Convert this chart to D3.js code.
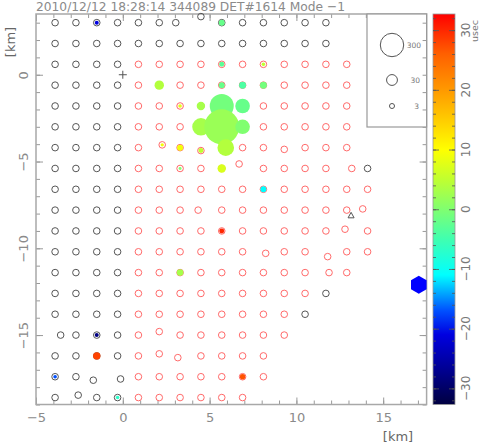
<!DOCTYPE html>
<html><head><meta charset="utf-8">
<script src="https://cdn.jsdelivr.net/npm/d3@7"></script>
<style>body{margin:0;background:#fff}svg{display:block}text{font-family:"DejaVu Sans",sans-serif}</style>
</head><body><script>
// ---------- data ----------
const title = "2010/12/12 18:28:14 344089 DET#1614 Mode \u22121";
const colX = [-3.9,-2.7,-1.5,-0.3,0.9,2.1,3.3,4.5,5.7,6.9,8.1,9.3,10.5,11.7,12.9,14.1];
const rowY = [3.0,1.8,0.6,-0.6,-1.8,-3.0,-4.2,-5.4,-6.6,-7.8,-9.0,-10.2,-11.4,-12.6,-13.8,-15.0,-16.2,-17.4,-18.6];
// k = black (outside), r = red (counter), . = none
const rowKinds = [
 "kkkkkkkkkkkkkk..",
 "kkkkkkkkkkkkkk..",
 "kkkkrrrrrrrrrrr.",
 "kkkkrrrrrrrrrrr.",
 "kkkkrrrrrrrrrrr.",
 "kkkkrrrrrrrrrrr.",
 "kkkkrrrrrrrrrrr.",
 "kkkkrrrrrrrrrrrk",
 "kkkkrrrrrrrrrrrr",
 "kkkkrrrrrrrrrrrr",
 "kkkkrrrrrrrrrrrr",
 "kkkkrrrrrrrrrrrr",
 "kkkkrrrrrrrrrrr.",
 "kkkkrrrrrrrrrk..",
 "kkkkrrrrrrrrk...",
 "kkkkrrrrrrrr....",
 "kkkkrrrrrrr.....",
 "kkkkrrrrrrr.....",
 "kkkkrrrrrr......"
];
// station position corrections: [row, col, dx km, dy km]
const offsets = [
 [0,6,-0.25,0],[0,7,0,0.35],[6,5,0.17,0.16],[6,7,0,-0.17],[6,8,0.23,0],[6,11,0,-0.1],
 [7,9,-0.2,0.26],[7,14,0.29,0],[9,7,-0.16,0],[9,15,-0.28,0.07],[10,14,-0.1,0.1],
 [11,10,0.13,-0.09],[11,13,0.1,-0.28],[12,13,0.18,0],[15,0,0.32,0],[15,5,0,0.2],
 [16,5,0,0.12],[16,6,-0.13,-0.1],[17,2,-0.2,-0.2],[17,3,0.17,-0.13],[18,1,0.13,0.14]
];
// hit stations
const hitRow    = [0,0,2,2,3,3,3,3,4,4,4,4,5,5,5,6,6,6,6,7,7,8,10,12,15,16,17,17,18];
const hitCol    = [2,8,8,10,5,8,9,10,6,7,8,9,7,8,9,5,6,7,8,6,8,10,8,6,2,2,0,9,3];
const hitTime   = [-21,-2,-3,5,4,-2,-4,-1,8,3,-1,-2,3,2,0,9,9,5,4,0,7,-11,30,3,-28,28,-17,27,-7];
const hitSignal = [1.5,5,2.9,1.1,19.5,5,8,8,1.1,13.9,324,73,123,1000,73,0.9,5,2.9,107,0.6,14,5,2.9,6.7,1.5,9.5,1.1,3.7,1.1];
const legendSignals = [300,30,3];
const xMajor = [-5,0,5,10,15];
const yMajor = [0,-5,-10,-15];
const cbMajor = [-30,-20,-10,0,10,20,30];
const cmapT = [-32.7,-27,-21,-17,-11,-5,0,5,10,15,20,26,32.7];
const cmapC = ["#000040","#000090","#0000e0","#0050ff","#00ffff","#40ffb0","#80ff70","#c0ff30","#ffff00","#ffcc00","#ff9900","#ff6000","#ff0000"];
const hexPos = [17.05,-12.1];
const triPos = [13.15,-8.1];
const plusPos = [0,0];

// ---------- drawing ----------
const W=479,H=444;
const svg=d3.select("body").append("svg").attr("width",W).attr("height",H);
const x=d3.scaleLinear().domain([-5,17.5]).range([36,426.6]);
const y=d3.scaleLinear().domain([-19,3.5]).range([404.5,14]);
const rS=d3.scalePow().exponent(1/3).domain([0,300]).range([0,11.7]);
const col=d3.scaleLinear().domain(cmapT).range(cmapC).clamp(true);
const gray="#999", txt="#8a8a8a";

// title
svg.append("text").attr("x",36).attr("y",11).attr("font-size",13).attr("fill",txt)
  .attr("textLength",309).attr("lengthAdjust","spacingAndGlyphs").text(title);

// axes
function ax(gen,tr,vals,size,labels){
  const g=svg.append("g").attr("transform",tr)
    .call(gen.tickValues(vals).tickSize(size).tickSizeOuter(0).tickFormat(labels?(d=>d<0?"\u2212"+(-d):d):"").tickPadding(8));
  g.select(".domain").remove();
  g.selectAll("line").attr("stroke",gray);
  g.selectAll("text").attr("fill",txt).attr("font-size",13).attr("font-family","DejaVu Sans");
  return g;
}
const xMinor=d3.range(-5,18,1), yMinor=d3.range(-19,4,1);
ax(d3.axisBottom(x),`translate(0,${y(-19)})`,xMinor,-4,false);
ax(d3.axisBottom(x),`translate(0,${y(-19)})`,xMajor,-7,true);
ax(d3.axisTop(x),`translate(0,${y(3.5)})`,xMinor,-4,false);
ax(d3.axisTop(x),`translate(0,${y(3.5)})`,xMajor,-7,false);
ax(d3.axisRight(y),`translate(${x(17.5)},0)`,yMinor,-4,false);
ax(d3.axisRight(y),`translate(${x(17.5)},0)`,yMajor,-7,false);
ax(d3.axisLeft(y),`translate(${x(-5)},0)`,yMinor,-4,false);
const gl=ax(d3.axisLeft(y),`translate(${x(-5)},0)`,yMajor,-7,true);
gl.selectAll("text").attr("x",0).attr("dy",0).attr("text-anchor","middle")
  .attr("transform","translate(-8,0) rotate(-90)");

// frame
svg.append("rect").attr("x",x(-5)).attr("y",y(3.5)).attr("width",x(17.5)-x(-5)).attr("height",y(-19)-y(3.5))
  .attr("fill","none").attr("stroke","#a8a8a8").attr("stroke-width",1.5);

// axis titles
svg.append("text").attr("x",398).attr("y",441).attr("text-anchor","middle").attr("font-size",13).attr("fill","#666").text("[km]");
svg.append("text").attr("transform","translate(15,42) rotate(-90)").attr("text-anchor","middle").attr("font-size",13).attr("fill","#666").text("[km]");

// stations
const stations=[];
rowKinds.forEach((s,j)=>{for(let i=0;i<s.length;i++){const k=s[i];if(k===".")continue;
  const o=offsets.find(a=>a[0]===j&&a[1]===i)||[j,i,0,0];
  stations.push({j,i,k,x:colX[i]+o[2],y:rowY[j]+o[3]});}});
const posOf=(j,i)=>stations.find(s=>s.j===j&&s.i===i);
svg.append("g").selectAll("circle").data(stations).join("circle")
  .attr("cx",d=>x(d.x)).attr("cy",d=>y(d.y)).attr("r",3.3).attr("fill","none")
  .attr("stroke",d=>d.k==="k"?"#555":"#ff6a6a").attr("stroke-width",1);

const hits=hitRow.map((j,n)=>{const s=posOf(j,hitCol[n]);return {x:s.x,y:s.y,t:hitTime[n],v:hitSignal[n]};});
svg.append("g").selectAll("circle").data(hits).join("circle")
  .attr("cx",d=>x(d.x)).attr("cy",d=>y(d.y)).attr("r",d=>rS(d.v)).attr("fill",d=>col(d.t));

// markers
svg.append("path").attr("d",`M${x(plusPos[0])-4},${y(plusPos[1])}h8M${x(plusPos[0])},${y(plusPos[1])-4}v8`).attr("stroke","#555").attr("stroke-width",1);
const tx=x(triPos[0]),ty=y(triPos[1]);
svg.append("path").attr("d",`M${tx},${ty-3}L${tx+3},${ty+2.5}L${tx-3},${ty+2.5}Z`).attr("fill","none").attr("stroke","#555");
const hx=x(hexPos[0]),hy=y(hexPos[1]),hr=9;
svg.append("path").attr("d",d3.range(6).map((k,n)=>{const a=Math.PI/3*k-Math.PI/2;return (n?"L":"M")+(hx+hr*Math.cos(a))+","+(hy+hr*Math.sin(a));}).join("")+"Z").attr("fill","#0000ff");

// legend box
svg.append("rect").attr("x",367).attr("y",y(3.5)).attr("width",x(17.5)-367).attr("height",113)
  .attr("fill","#fff").attr("stroke",gray).attr("stroke-width",1.2);
ax(d3.axisRight(y),`translate(${x(17.5)},0)`,yMinor.filter(v=>v>-3),-4,false);
const legY=[45,80,106], legTX=[421,420,419];
legendSignals.forEach((v,n)=>{
  svg.append("circle").attr("cx",392).attr("cy",legY[n]).attr("r",rS(v)).attr("fill","none").attr("stroke","#555");
  svg.append("text").attr("x",legTX[n]).attr("y",legY[n]+2.5).attr("text-anchor","end").attr("font-size",7.5).attr("fill","#777").text(v);
});

// colorbar
const cb=d3.scaleLinear().domain([-32.7,32.7]).range([404.5,14]);
const grad=svg.append("defs").append("linearGradient").attr("id","cg").attr("x1",0).attr("y1",1).attr("x2",0).attr("y2",0);
cmapT.forEach((t,n)=>grad.append("stop").attr("offset",(t+32.7)/65.4).attr("stop-color",cmapC[n]));
svg.append("rect").attr("x",433).attr("y",cb(32.7)).attr("width",22).attr("height",cb(-32.7)-cb(32.7))
  .attr("fill","url(#cg)").attr("stroke","#999").attr("stroke-width",0.8);
const cbMinor=d3.range(-32,33,2);
function cax(gen,tr,vals,size){const g=svg.append("g").attr("transform",tr).call(gen.tickValues(vals).tickSize(size).tickSizeOuter(0).tickFormat(""));
  g.select(".domain").remove();g.selectAll("line").attr("stroke","#555").attr("stroke-width",0.8);}
cax(d3.axisLeft(cb),"translate(433,0)",cbMinor,-3);
cax(d3.axisRight(cb),"translate(455,0)",cbMinor,-3);
cax(d3.axisLeft(cb),"translate(433,0)",cbMajor,-6);
cax(d3.axisRight(cb),"translate(455,0)",cbMajor,-6);
svg.append("g").selectAll("text").data(cbMajor).join("text")
  .attr("transform",d=>`translate(470,${cb(d)}) rotate(-90)`).attr("text-anchor","middle")
  .attr("font-size",12).attr("fill","#777").text(d=>d<0?"\u2212"+(-d):d);
svg.append("text").attr("transform","translate(478,31) rotate(-90)").attr("text-anchor","middle")
  .attr("font-size",9.5).attr("fill","#777").text("usec");
</script></body></html>
